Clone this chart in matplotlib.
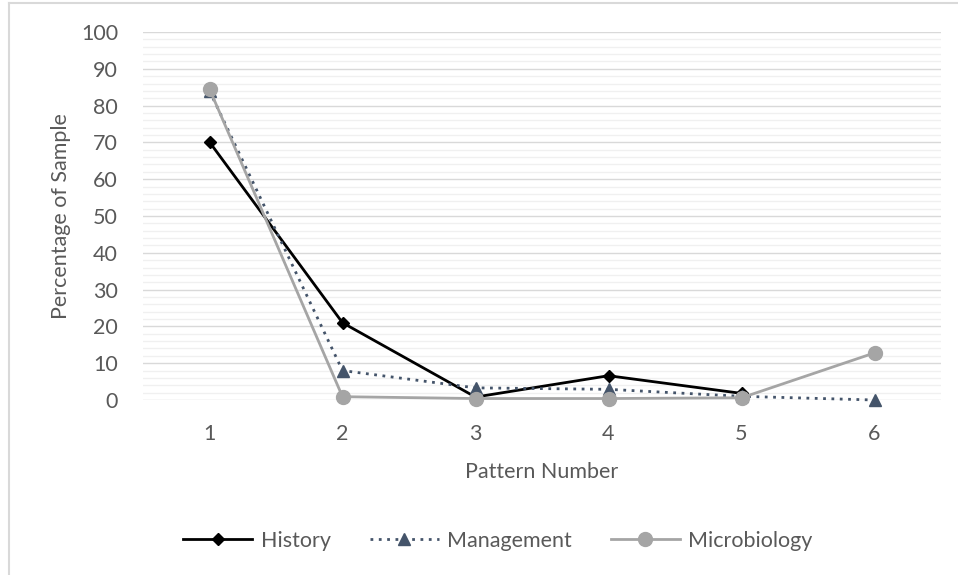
import numpy as np
import matplotlib
matplotlib.use('Agg')
import matplotlib.pyplot as plt
from matplotlib.lines import Line2D

## Data ==============================================
patterns = [1, 2, 3, 4, 5, 6]
history = [70.1, 21.0, 0.8, 6.6, 1.8]          # no value at pattern 6
management = [84.0, 8.0, 3.3, 2.9, 1.0, 0.0]
microbiology = [84.5, 0.9, 0.4, 0.4, 0.6, 12.8]
y_ticks = [0, 10, 20, 30, 40, 50, 60, 70, 80, 90, 100]

txt_col = '#595959'
fs = 15.5
plt.rcParams['font.family'] = ['Lato', 'DejaVu Sans']

fig = plt.figure(figsize=(9.58, 5.75), dpi=100)
ax = fig.add_axes([143/958, 1-400/575, 798/958, 368/575])

# minor / major gridlines like excel
for v in np.arange(0, 101, 2):
    if v % 10 == 0:
        ax.axhline(v, color='#d9d9d9', lw=1.0, zorder=0)
    else:
        ax.axhline(v, color='#f0f0f0', lw=1.0, zorder=0)

ax.plot(patterns[:len(history)], history, color='black', lw=2.0,
        marker='D', ms=6, label='History', zorder=3, clip_on=False)
ax.plot(patterns, management, color='#44546a', lw=2.0, ls=(0, (1, 2)),
        marker='^', ms=8, label='Management', zorder=3, clip_on=False)
ax.plot(patterns, microbiology, color='#a5a5a5', lw=2.0,
        marker='o', ms=10, label='Microbiology', zorder=4, clip_on=False)

ax.set_xlim(0.5, 6.5)
ax.set_ylim(0, 100)
ax.set_xticks(patterns)
ax.set_yticks(y_ticks)
ax.tick_params(length=0, labelsize=fs, colors=txt_col)
ax.tick_params(axis='y', pad=18)
ax.tick_params(axis='x', pad=17)
for s in ax.spines.values():
    s.set_visible(False)

ax.set_xlabel('Pattern Number', fontsize=fs, color=txt_col, labelpad=13)
ax.set_ylabel('Percentage of Sample', fontsize=fs, color=txt_col, labelpad=7)

leg = fig.legend(loc='center', bbox_to_anchor=(498/958, 1-541/575), ncol=3,
                 frameon=False, fontsize=fs, handlelength=3.2, columnspacing=1.8,
                 handletextpad=0.4)
for t in leg.get_texts():
    t.set_color(txt_col)

# chart border (only left and top visible in the crop)
fig.add_artist(Line2D([9/958, 9/958], [0, 1-3/575], color='#d9d9d9', lw=1.5,
                      transform=fig.transFigure))
fig.add_artist(Line2D([9/958, 1], [1-3/575, 1-3/575], color='#d9d9d9', lw=1.5,
                      transform=fig.transFigure))

fig.savefig('out.png', dpi=100)
